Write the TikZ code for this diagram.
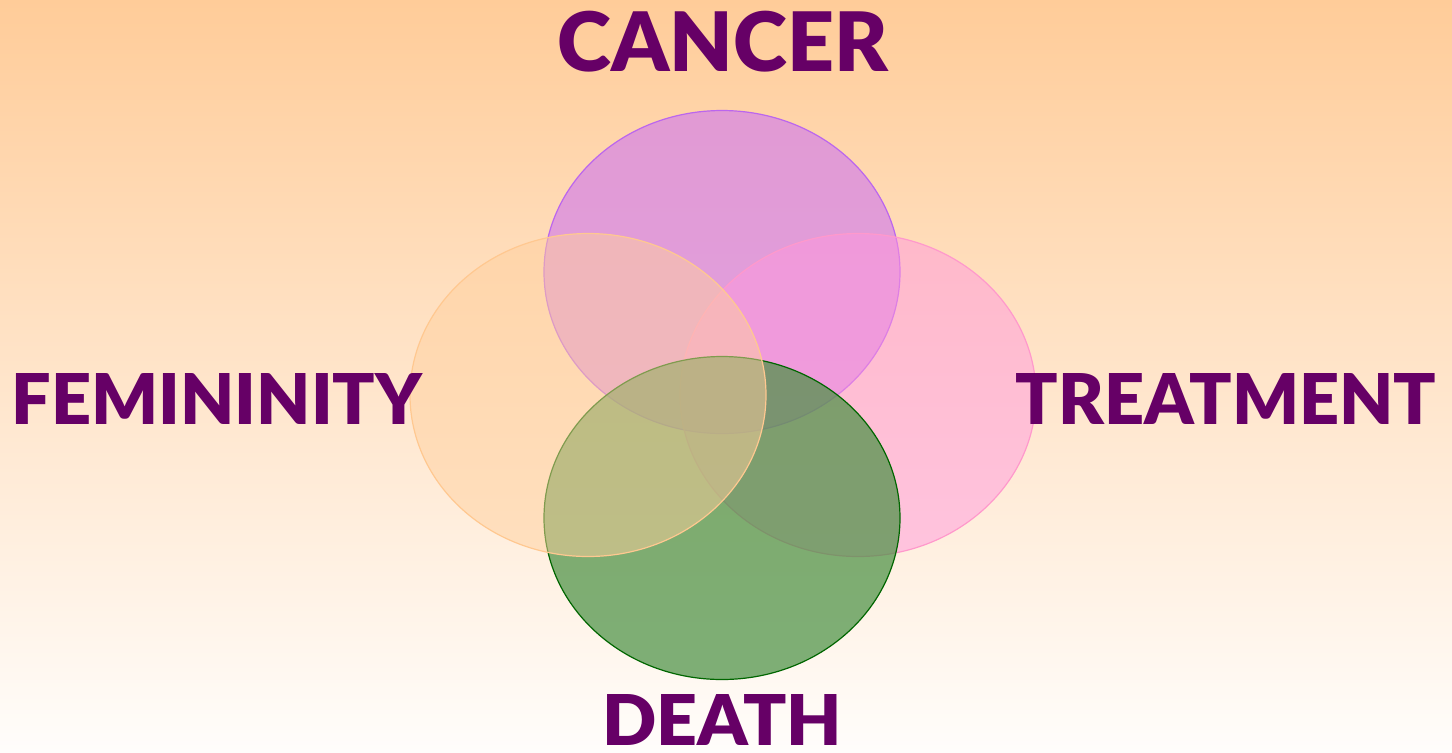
\documentclass[tikz,border=0pt]{standalone}
\usepackage{fontspec}
\usepackage{xcolor}
\usepackage{tikz}
\usetikzlibrary{
  positioning,
  shapes.geometric,
}
\newfontfamily\labelfont{Lato Black}
\definecolor{bgtop}{HTML}{FFCC99}
\definecolor{bgbottom}{HTML}{FFFDFB}
\definecolor{labelpurple}{HTML}{660066}
\definecolor{cancerfill}{HTML}{D582E7}
\definecolor{cancerline}{HTML}{BB66EE}
\definecolor{treatfill}{HTML}{FF98DC}
\definecolor{treatline}{HTML}{FF99CC}
\definecolor{deathfill}{HTML}{489042}
\definecolor{deathline}{HTML}{006600}
\definecolor{femfill}{HTML}{FFD09D}
\definecolor{femline}{HTML}{FFC890}

\begin{document}
\begin{tikzpicture}[
    x=0.5pt, y=-0.5pt,
    blob/.style={ellipse, inner sep=0pt, minimum width=178pt, minimum height=161.5pt, line width=0.6pt},
    word/.style={text=labelpurple, font=\labelfont\fontsize{35}{42}\selectfont, inner sep=0pt},
  ]
  \shade[top color=bgtop, bottom color=bgbottom] (0,0) rectangle (1452,752);
  \useasboundingbox (0,0) rectangle (1452,752);

  % four circles, back to front
  \node[blob, draw=cancerline, fill=cancerfill, fill opacity=0.7] (cancer) at (722,272) {};
  \node[blob, draw=treatline, fill=treatfill, fill opacity=0.5] (treatment) at (858,395) {};
  \node[blob, draw=deathline, fill=deathfill, fill opacity=0.7] (death) at (722,518) {};
  \node[blob, draw=femline, fill=femfill, fill opacity=0.5] (femininity) at (588,395) {};

  \node[word, font=\labelfont\fontsize{41}{48}\selectfont] (cancerlbl) at (723,42) {CANCER};
  \node[word] (femlbl) at (217,398.5) {FEMININITY};
  \node[word] (treatlbl) at (1226,399) {TREATMENT};
  \node[word] (deathlbl) at (722,719.5) {\scalebox{1.02}[1]{DEATH}};
\end{tikzpicture}
\end{document}
